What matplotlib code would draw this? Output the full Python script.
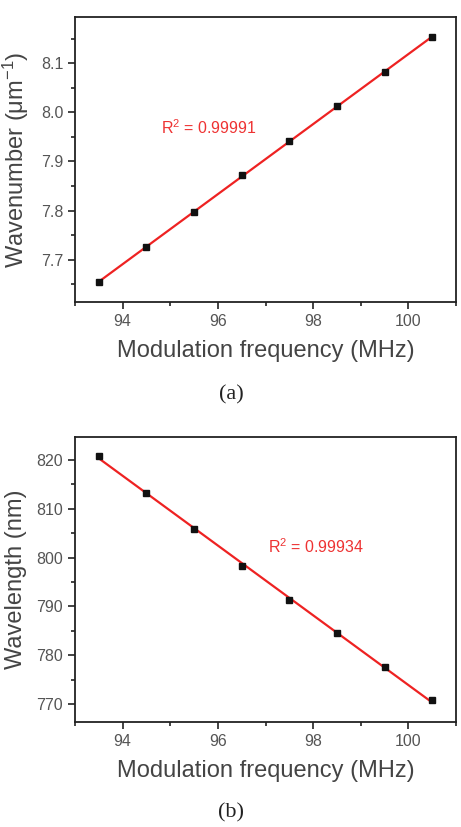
import numpy as np
import matplotlib
matplotlib.use("Agg")
import matplotlib.pyplot as plt
from matplotlib.ticker import MultipleLocator

plt.rcParams['font.family'] = ['Liberation Sans', 'DejaVu Sans']
plt.rcParams['mathtext.fontset'] = 'custom'
plt.rcParams['mathtext.rm'] = 'Liberation Sans'
plt.rcParams['mathtext.it'] = 'Liberation Sans'

freq = [93.5, 94.5, 95.5, 96.5, 97.5, 98.5, 99.5, 100.5]
wavenumber = [7.654, 7.726, 7.797, 7.873, 7.941, 8.012, 8.082, 8.153]
wavelength = [820.9, 813.2, 805.9, 798.3, 791.4, 784.5, 777.5, 770.8]
r2_a = "R$^2$ = 0.99991"
r2_b = "R$^2$ = 0.99934"
xticks = [94, 96, 98, 100]

W, H = 461, 827
fig = plt.figure(figsize=(W / 100, H / 100), dpi=100)

def axes_px(l, t, r, b):
    return fig.add_axes([l / W, 1 - b / H, (r - l) / W, (b - t) / H])

axA = axes_px(75, 17, 456, 302)
axB = axes_px(75, 437, 456, 722)

txt = '#444444'

def style(ax):
    ax.set_xlim(93, 101)
    ax.set_xticks(xticks)
    ax.xaxis.set_minor_locator(MultipleLocator(1))
    for s in ax.spines.values():
        s.set_linewidth(1.3)
        s.set_color('#222222')
    ax.tick_params(which='both', direction='out', top=False, right=False,
                   colors='#222222', labelcolor='#555555', labelsize=11.5, width=1.2)
    ax.tick_params(which='major', length=5)
    ax.tick_params(which='minor', length=3)
    ax.set_xlabel('Modulation frequency (MHz)', fontsize=17, color=txt, labelpad=8)

def draw(ax, y):
    x = np.array(freq)
    p = np.polyfit(x, np.array(y), 1)
    ax.plot(x, np.polyval(p, x), color='#ee2222', lw=1.6, zorder=2)
    ax.plot(x, y, 's', color='#111111', ms=5, zorder=3)

draw(axA, wavenumber)
style(axA)
axA.set_ylim(7.614, 8.194)
axA.yaxis.set_major_locator(MultipleLocator(0.1))
axA.yaxis.set_minor_locator(MultipleLocator(0.05))
axA.set_ylabel('Wavenumber (μm$^{-1}$)', fontsize=17, color=txt, labelpad=7)
axA.text(94.8, 7.968, r2_a, color='#ee3333', fontsize=11.5, va='center', ha='left')

draw(axB, wavelength)
style(axB)
axB.set_ylim(766.3, 824.7)
axB.yaxis.set_major_locator(MultipleLocator(10))
axB.yaxis.set_minor_locator(MultipleLocator(5))
axB.set_ylabel('Wavelength (nm)', fontsize=17, color=txt, labelpad=7)
axB.text(97.05, 802.2, r2_b, color='#ee3333', fontsize=11.5, va='center', ha='left')

fig.text(231 / W, 1 - 395 / H, '(a)', family='Liberation Serif', fontsize=16,
         ha='center', va='center', color='#222222')
fig.text(231 / W, 1 - 813 / H, '(b)', family='Liberation Serif', fontsize=16,
         ha='center', va='center', color='#222222')

fig.savefig('out.png', dpi=100)
